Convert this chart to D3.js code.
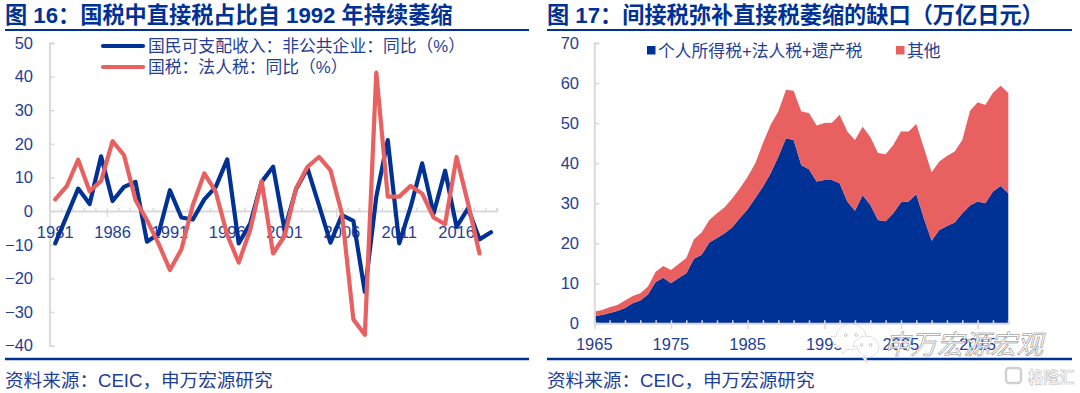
<!DOCTYPE html>
<html>
<head>
<meta charset="utf-8">
<script src="https://cdn.jsdelivr.net/npm/d3@7"></script>
<style>
  body { margin: 0; background: #fff; }
  text { font-family: "Liberation Sans", "Noto Sans CJK SC", sans-serif; }
</style>
</head>
<body>
<svg id="chart" width="1080" height="393"></svg>
<script>
const navy = "#003296"
const red = "#E86060"
const labelColor = "#1F3E94"
const axisGrey = "#DADADA"

// Figure 16
const years16 = d3.range(1981, 2020)
const disposable = [-9.6, -1.5, 6.7, 2.1, 16.3, 3, 7.2, 8.7, -9.1, -6.8, 6.2, -1.9, -2.5, 3.5, 7.2, 15.4, -9.6, -3.7, 8.7, 13.2,
    -5.6, 6.5, 12.7, 1.8, -9.4, -1.2, -2.9, -24, 4.3, 21.1, -9.6, 1.3, 14.2, -0.7, 12, -4.7, 0.8, -8.4, -6.3]
const corpTax = [3.5, 7.4, 15.3, 5.9, 9, 20.8, 16.6, 3.3, -2.7, -9.6, -17.5, -11.4, 1.8, 11.2, 5.7, -7.1, -15.3, -5.6, 8.9, -12.6,
    -7.4, 6.7, 13.2, 16.1, 12.2, -0.7, -32.2, -36.8, 41.2, 4.3, 4.3, 7.5, 5.2, -1.9, -3.9, 16.1, 2.3, -12.6]
const ticks16 = [-40, -30, -20, -10, 0, 10, 20, 30, 40, 50]
const yearLabels16 = [1981, 1986, 1991, 1996, 2001, 2006, 2011, 2016]

// Figure 17
const years17 = d3.range(1965, 2020)
const directTax = [1.8, 2.1, 2.6, 3.1, 3.8, 5, 5.7, 7.2, 10.3, 11.4, 10, 11.3, 12.5, 16.1, 17.1, 20.2, 21.3, 22.5, 24, 26.3,
    28.5, 31.3, 34.1, 37.5, 41.6, 46.2, 45.8, 39.5, 38.5, 35.4, 35.8, 35.8, 35, 30.4, 28.1, 32, 29.6, 25.8, 25.5, 27.5,
    30.2, 30.4, 32.2, 26.2, 20.6, 23.3, 24.3, 25.2, 27.5, 29.4, 30.4, 30, 32.9, 34.3, 32.5]
const otherTax = [1.1, 1.2, 1.4, 1.5, 1.9, 1.8, 1.8, 2, 2.6, 2.9, 3.3, 3.5, 3.8, 4.9, 5.6, 5.6, 6.2, 6.5, 7.2, 7.4,
    8.1, 8.7, 10.9, 12.1, 11.3, 12.1, 12.3, 13.4, 14, 14, 14.2, 14.3, 17.1, 17.5, 17.7, 17.1, 16.9, 16.7, 16.7, 17,
    17.7, 17.5, 17.6, 17.5, 17.1, 17.1, 17.5, 17.7, 18.3, 23.6, 24.8, 24.5, 24.7, 25, 25]
const ticks17 = [0, 10, 20, 30, 40, 50, 60, 70]
const yearLabels17 = [1965, 1975, 1985, 1995, 2005, 2015]

const svg = d3.select("#chart")

function frame(left, right, title) {
    svg.append("text").attr("x", left).attr("y", 23)
        .attr("font-size", 22.2).attr("font-weight", 700).attr("fill", navy)
        .text(title)
    svg.append("line").attr("x1", left).attr("x2", right).attr("y1", 30).attr("y2", 30)
        .attr("stroke", navy).attr("stroke-width", 2.2)
    svg.append("line").attr("x1", left).attr("x2", right).attr("y1", 359).attr("y2", 359)
        .attr("stroke", navy).attr("stroke-width", 2.6)
    svg.append("text").attr("x", left).attr("y", 387)
        .attr("font-size", 18.6).attr("fill", labelColor)
        .text("资料来源：CEIC，申万宏源研究")
}

function styleAxis(g) {
    g.select(".domain").attr("stroke", axisGrey).attr("stroke-width", 2)
    g.selectAll(".tick line").attr("stroke", axisGrey).attr("stroke-width", 1.5)
    g.selectAll(".tick text").attr("fill", labelColor).attr("font-size", 16.5)
        .style("font-family", "'Liberation Sans'")
}

// left panel
frame(5, 529, "图 16：国税中直接税占比自 1992 年持续萎缩")

const y16 = d3.scaleLinear().domain([-40, 50]).range([345.6, 43])
// ticks sit on the year edges, points in the middle of each year slot
const x16 = d3.scaleLinear().domain([1981, 2020]).range([49.5, 496.7])

svg.append("g").attr("transform", "translate(49.5,0)")
    .call(d3.axisRight(y16).tickValues(ticks16).tickSize(5).tickSizeOuter(5).tickFormat(""))
    .call(styleAxis)
svg.append("g").attr("transform", "translate(36,0)")
    .call(d3.axisLeft(y16).tickValues(ticks16).tickSize(0))
    .call(g => g.select(".domain").remove())
    .call(styleAxis)

const xAxis16 = svg.append("g").attr("transform", `translate(0,${y16(0)})`)
    .call(d3.axisTop(x16).tickValues(d3.range(1981, 2021)).tickSizeOuter(0).tickSize(3).tickFormat(""))
    .call(styleAxis)
xAxis16.selectAll(".tick line")
    .filter(d => yearLabels16.includes(d) && d > 1981)
    .attr("y1", 6).attr("y2", -3)

svg.append("g").selectAll("text").data(yearLabels16).join("text")
    .attr("x", d => x16(d + 0.5))
    .attr("y", y16(0) + 27)
    .attr("text-anchor", "middle").attr("font-size", 16.5).attr("fill", labelColor)
    .text(d => d)

const line16 = d3.line()
    .x((d, i) => x16(years16[i] + 0.5))
    .y(d => y16(d))

svg.append("path").datum(disposable).attr("d", line16)
    .attr("fill", "none").attr("stroke", navy).attr("stroke-width", 4.2)
    .attr("stroke-linejoin", "round").attr("stroke-linecap", "round")
svg.append("path").datum(corpTax).attr("d", line16)
    .attr("fill", "none").attr("stroke", red).attr("stroke-width", 4.2)
    .attr("stroke-linejoin", "round").attr("stroke-linecap", "round")

const legend16 = [
    { name: "国民可支配收入：非公共企业：同比（%）", color: navy, y: 46 },
    { name: "国税：法人税：同比（%）", color: red, y: 67 }
]
legend16.forEach(item => {
    svg.append("line").attr("x1", 103).attr("x2", 143).attr("y1", item.y).attr("y2", item.y)
        .attr("stroke", item.color).attr("stroke-width", 4.2).attr("stroke-linecap", "round")
    svg.append("text").attr("x", 148).attr("y", item.y + 6)
        .attr("font-size", 16.8).attr("fill", labelColor).text(item.name)
})

// right panel
frame(547, 1072, "图 17：间接税弥补直接税萎缩的缺口（万亿日元）")

const y17 = d3.scaleLinear().domain([0, 70]).range([323.3, 43])
const x17 = d3.scaleLinear().domain([1965, 2019]).range([594.3, 1008.3])

const stackRows = years17.map((year, i) => ({ year, direct: directTax[i], other: otherTax[i] }))
const layers = d3.stack().keys(["direct", "other"])(stackRows)
const area17 = d3.area()
    .x(d => x17(d.data.year))
    .y0(d => y17(d[0]))
    .y1(d => y17(d[1]))

svg.append("g").selectAll("path").data(layers).join("path")
    .attr("d", area17)
    .attr("fill", d => d.key === "direct" ? navy : red)

svg.append("g").attr("transform", "translate(594.3,0)")
    .call(d3.axisRight(y17).tickValues(ticks17).tickSize(5).tickSizeOuter(5).tickFormat(""))
    .call(styleAxis)
svg.append("g").attr("transform", "translate(582,0)")
    .call(d3.axisLeft(y17).tickValues(ticks17).tickSize(0))
    .call(g => g.select(".domain").remove())
    .call(styleAxis)

const xAxis17 = svg.append("g").attr("transform", `translate(0,${y17(0)})`)
    .call(d3.axisTop(x17).tickValues(d3.range(1965, 2020, 2)).tickSizeOuter(0).tickSize(3).tickFormat(""))
    .call(styleAxis)
xAxis17.selectAll(".tick line")
    .filter(d => yearLabels17.includes(d))
    .attr("y1", 6).attr("y2", -3)

svg.append("g").selectAll("text").data(yearLabels17).join("text")
    .attr("x", d => x17(d))
    .attr("y", 350)
    .attr("text-anchor", "middle").attr("font-size", 16.5).attr("fill", labelColor)
    .text(d => d)

const legend17 = [
    { name: "个人所得税+法人税+遗产税", color: navy, x: 647 },
    { name: "其他", color: red, x: 896 }
]
legend17.forEach(item => {
    svg.append("rect").attr("x", item.x).attr("y", 46).attr("width", 8.5).attr("height", 8.5)
        .attr("fill", item.color)
    svg.append("text").attr("x", item.x + 11).attr("y", 56.5)
        .attr("font-size", 16.8).attr("fill", labelColor).text(item.name)
})

// watermarks stamped over the picture
const mark = svg.append("g")
function bubble(cx, cy, rx, ry, tailX, tailY) {
    mark.append("path")
        .attr("d", `M${cx - rx},${cy}a${rx},${ry} 0 1,1 ${rx * 2},0a${rx},${ry} 0 0,1 ${-rx * 1.3},${ry * 0.93}l${tailX},${tailY}l${-1},${-tailY - 1}a${rx},${ry} 0 0,1 ${-rx * 0.7},${-ry * 0.93}z`)
        .attr("fill", "#fff").attr("stroke", "#C9C9C9").attr("stroke-width", 0.6)
    mark.append("circle").attr("cx", cx - rx * 0.35).attr("cy", cy - 2).attr("r", 1.4).attr("fill", "#fff").attr("stroke", "#999").attr("stroke-width", 0.5)
    mark.append("circle").attr("cx", cx + rx * 0.35).attr("cy", cy - 2).attr("r", 1.4).attr("fill", "#fff").attr("stroke", "#999").attr("stroke-width", 0.5)
}
bubble(851, 337, 15, 13, -4, 5)
bubble(866, 347, 13, 11, 5, 6)

mark.append("text").attr("x", 884).attr("y", 354)
    .attr("font-size", 26.5).attr("font-style", "italic")
    .attr("fill", "#fff").attr("stroke", "#7A7A7A").attr("stroke-width", 0.5)
    .text("申万宏源宏观")

mark.append("rect").attr("x", 1006).attr("y", 368).attr("width", 15).attr("height", 15).attr("rx", 3)
    .attr("fill", "none").attr("stroke", "#D0D0D0").attr("stroke-width", 2.4)
mark.append("text").attr("x", 1028).attr("y", 383)
    .attr("font-size", 15.5).attr("font-weight", 700)
    .attr("fill", "#fff").attr("stroke", "#C4C4C4").attr("stroke-width", 0.6)
    .text("格隆汇")
</script>
</body>
</html>
